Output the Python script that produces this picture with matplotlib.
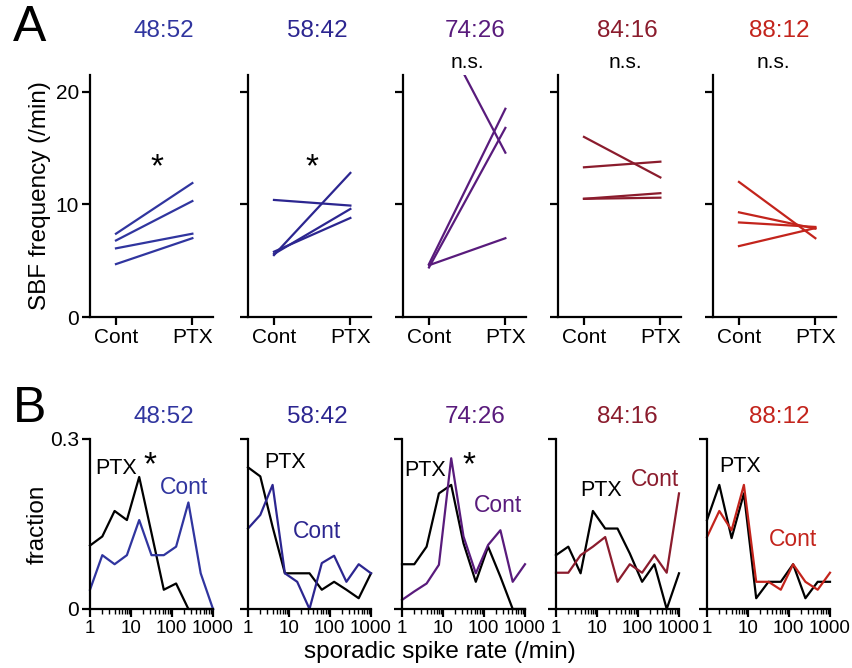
import matplotlib

matplotlib.use("Agg")
import matplotlib.pyplot as plt
from matplotlib.ticker import NullFormatter

plt.rcParams["font.family"] = ["Liberation Sans", "DejaVu Sans"]

W, H = 852, 668

RATIOS = ["48:52", "58:42", "74:26", "84:16", "88:12"]
COLORS = ["#30359f", "#2c2690", "#591b7c", "#8b1c2d", "#c3241c"]

# A: SBF frequency (/min), one pair per cell, Cont -> PTX
SBF_CONT = [
    [7.4, 6.8, 6.1, 4.7],
    [10.4, 5.5, 5.6, 5.8],
    [27.5, 4.7, 4.4, 4.6],
    [16.0, 13.3, 10.5, 10.5],
    [12.0, 9.3, 8.4, 6.3],
]
SBF_PTX = [
    [11.9, 10.3, 7.4, 7.0],
    [9.9, 12.8, 9.6, 8.8],
    [14.6, 18.5, 16.8, 7.0],
    [12.4, 13.8, 11.0, 10.6],
    [7.0, 7.85, 8.0, 7.9],
]
SIG_A = ["*", "*", "n.s.", "n.s.", "n.s."]

# B: distribution of sporadic spike rate
RATE_BINS = [1, 2, 4, 8, 16, 32, 64, 128, 256, 512, 1024]
FRAC_PTX = [
    [0.112, 0.128, 0.173, 0.157, 0.233, 0.134, 0.034, 0.045, 0.0, 0.0, 0.0],
    [0.250, 0.234, 0.145, 0.063, 0.063, 0.063, 0.034, 0.048, 0.034, 0.019, 0.063],
    [0.079, 0.079, 0.110, 0.204, 0.219, 0.116, 0.048, 0.110, 0.057, 0.0, 0.0],
    [0.095, 0.110, 0.063, 0.173, 0.142, 0.142, 0.098, 0.048, 0.079, 0.0, 0.063],
    [0.157, 0.219, 0.125, 0.204, 0.019, 0.048, 0.048, 0.079, 0.019, 0.048, 0.048],
]
FRAC_CONT = [
    [0.034, 0.095, 0.079, 0.095, 0.157, 0.095, 0.095, 0.110, 0.188, 0.063, 0.0],
    [0.142, 0.166, 0.219, 0.063, 0.048, 0.0, 0.081, 0.094, 0.048, 0.079, 0.063],
    [0.016, 0.031, 0.045, 0.078, 0.266, 0.128, 0.063, 0.113, 0.139, 0.048, 0.079],
    [0.064, 0.064, 0.095, 0.110, 0.127, 0.048, 0.079, 0.064, 0.095, 0.064, 0.204],
    [0.127, 0.173, 0.139, 0.219, 0.048, 0.048, 0.034, 0.079, 0.048, 0.034, 0.064],
]

# log minor ticks 2..9 in each decade (the auto locator drops them on narrow axes)
MINOR_TICKS = [m * 10 ** d for d in range(3) for m in range(2, 10)]


def px(x, y):
    # pixel position (from top-left) -> figure fraction
    return x / W, 1 - y / H


def rect(left, top, right, bottom):
    return [left / W, 1 - bottom / H, (right - left) / W, (bottom - top) / H]


def style(ax):
    for s in ("top", "right"):
        ax.spines[s].set_visible(False)
    for s in ("left", "bottom"):
        ax.spines[s].set_linewidth(1.6)
    ax.tick_params(direction="out", width=1.6, length=6, labelsize=15, pad=2)
    ax.tick_params(which="minor", direction="out", width=1.0, length=3.5)


fig = plt.figure(figsize=(W / 100, H / 100), dpi=100)

# ---- panel A
a_lefts = [90, 248, 403, 558, 713]
a_title_x = [164, 317, 475, 627, 779]
a_star_x = [157, 312, 467, 625, 773]
for i, left in enumerate(a_lefts):
    ax = fig.add_axes(rect(left, 75, left + 123, 317))
    for c, p in zip(SBF_CONT[i], SBF_PTX[i]):
        ax.plot([0, 1], [c, p], color=COLORS[i], lw=1.6)
    ax.set_xlim(-0.34, 1.27)
    ax.set_ylim(0, 21.5)
    ax.set_xticks([0, 1])
    ax.set_xticklabels(["Cont", "PTX"])
    ax.set_yticks([0, 10, 20])
    style(ax)
    if i == 0:
        ax.set_ylabel("SBF frequency (/min)", fontsize=17.5, labelpad=3)
    else:
        ax.set_yticklabels([])
    fig.text(*px(a_title_x[i], 31), RATIOS[i], color=COLORS[i],
             fontsize=17.5, ha="center", va="center")
    if SIG_A[i] == "*":
        fig.text(*px(a_star_x[i], 168), "*", fontsize=24, ha="center", va="center")
    else:
        fig.text(*px(a_star_x[i], 62), "n.s.", fontsize=15, ha="center", va="center")

fig.text(*px(30, 28), "A", fontsize=36, ha="center", va="center")

# ---- panel B
b_lefts = [90, 248, 402, 556, 707]
ptx_pos = [(116, 468), (285, 463), (425, 470), (601, 490), (740, 466)]
cont_pos = [(184, 488), (317, 531), (498, 506), (655, 480), (793, 540)]
star_pos = [(150, 466), None, (469, 466), None, None]
for i, left in enumerate(b_lefts):
    ax = fig.add_axes(rect(left, 439, left + 123, 609))
    ax.plot(RATE_BINS, FRAC_PTX[i], color="black", lw=1.6, clip_on=False)
    ax.plot(RATE_BINS, FRAC_CONT[i], color=COLORS[i], lw=1.6, clip_on=False)
    ax.set_xscale("log")
    ax.set_xlim(1, 1024)
    ax.set_ylim(0, 0.3)
    ax.set_xticks([1, 10, 100, 1000])
    ax.set_xticklabels(["1", "10", "100", "1000"])
    ax.set_xticks(MINOR_TICKS, minor=True)
    ax.xaxis.set_minor_formatter(NullFormatter())
    ax.set_yticks([0, 0.3])
    style(ax)
    ax.tick_params(axis="x", labelsize=13.5)
    if i == 0:
        ax.set_yticklabels(["0", "0.3"])
        ax.set_ylabel("fraction", fontsize=17.5, labelpad=1)
    else:
        ax.set_yticklabels([])
    fig.text(*px(a_title_x[i], 417), RATIOS[i], color=COLORS[i],
             fontsize=17.5, ha="center", va="center")
    fig.text(*px(*ptx_pos[i]), "PTX", fontsize=15.5, ha="center", va="center")
    fig.text(*px(*cont_pos[i]), "Cont", color=COLORS[i], fontsize=16.5,
             ha="center", va="center")
    if star_pos[i]:
        fig.text(*px(*star_pos[i]), "*", fontsize=24, ha="center", va="center")

fig.text(*px(30, 409), "B", fontsize=36, ha="center", va="center")
fig.text(*px(440, 652), "sporadic spike rate (/min)", fontsize=17.5,
         ha="center", va="center")

fig.savefig("out.png", dpi=100)
